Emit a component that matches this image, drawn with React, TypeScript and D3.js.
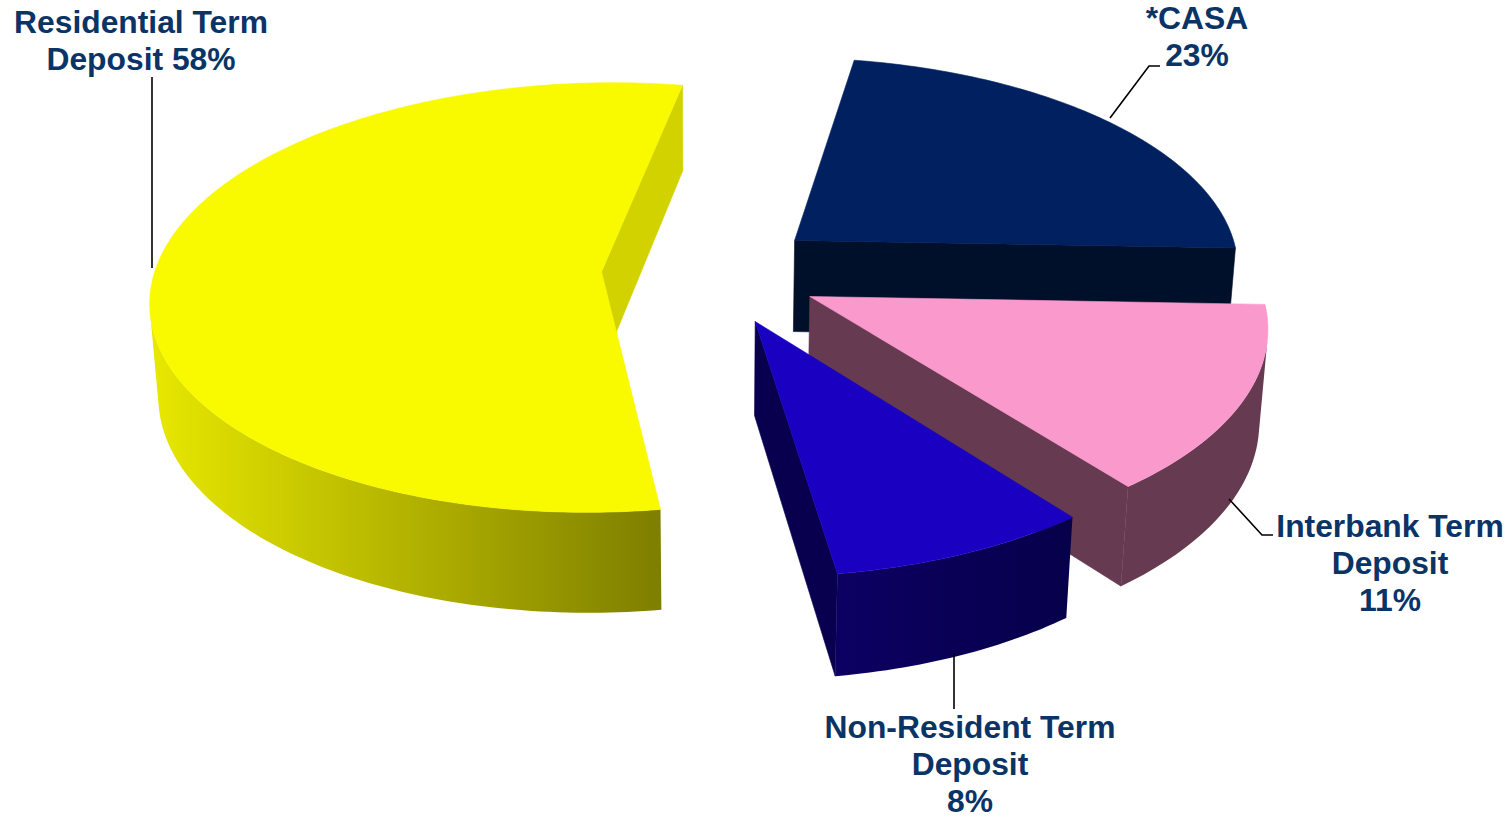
import React from 'react';
import * as d3 from 'd3';

// ---------------- data ----------------
const categories = ['*CASA', 'Interbank Term Deposit', 'Non-Resident Term Deposit', 'Residential Term Deposit'];
// share of the pie each slice occupies as drawn in the picture (%)
const sliceShares = [22.8, 13.9, 8.2, 55.1];
// label texts as printed on the chart
const labelLines = [
  ['*CASA', '23%'],
  ['Interbank Term', 'Deposit', '11%'],
  ['Non-Resident Term', 'Deposit', '8%'],
  ['Residential Term', 'Deposit 58%'],
];

// ---------------- styles ----------------
const topColors = ['#002060', '#FA99CC', '#1A00C0', '#F9F900'];
const wallColors = ['#000F2A', '#663A50', '#08004E', '#D2D200'];
const sideFrom = ['#000F2A', '#663A50', '#0C0062', '#E8E800'];
const sideTo = ['#000F2A', '#663A50', '#06004A', '#7E7E00'];
const textColor = '#0A3366';

// label layout (anchor of first baseline) and leader polylines
const labelPos = [
  { x: 1197, y: 29 },
  { x: 1390, y: 537 },
  { x: 970, y: 738 },
  { x: 141, y: 33 },
];
const leaders = [
  [[1110, 118], [1149, 66], [1160, 66]],
  [[1229, 499], [1262, 535], [1273, 535]],
  [[954, 653], [954, 709]],
  [[152, 268], [152, 77]],
];

// ---------------- 3D view ----------------
const view = { S: 447, cx: 711, cy: 272.5, sinA: 0.474, beta: 0.12, h: 0.238, explode: 0.245, rotation: 10 };
const deg = Math.PI / 180;
const cosA = Math.sqrt(1 - view.sinA * view.sinA);
const tanA = view.sinA / cosA;

type Pt = [number, number];
function project(x: number, y: number, z: number): Pt {
  const w = 1 / (1 + view.beta * (z - y * tanA));
  return [view.cx + view.S * x * w, view.cy - view.S * (z * view.sinA + y * cosA) * w];
}
function area(p: Pt[]) {
  let s = 0;
  for (let i = 0; i < p.length; i++) {
    const a = p[i], b = p[(i + 1) % p.length];
    s += a[0] * b[1] - b[0] * a[1];
  }
  return s / 2;
}
const pathOf = (p: Pt[]) => 'M' + p.map((q) => q[0].toFixed(2) + ',' + q[1].toFixed(2)).join('L') + 'Z';

function buildSlices() {
  const arcs = d3.pie<number>().sort(null).value((d) => d)(sliceShares);
  return arcs.map((a, i) => {
    const a0 = a.startAngle + view.rotation * deg;
    const a1 = a.endAngle + view.rotation * deg;
    const mid = (a0 + a1) / 2;
    const ox = view.explode * Math.sin(mid);
    const oz = view.explode * Math.cos(mid);
    const n = Math.max(8, Math.ceil((a1 - a0) / deg));
    const angs = d3.range(n + 1).map((k) => a0 + ((a1 - a0) * k) / n);
    const top = angs.map((t) => project(ox + Math.sin(t), 0, oz + Math.cos(t)));
    const bot = angs.map((t) => project(ox + Math.sin(t), -view.h, oz + Math.cos(t)));
    const apexT = project(ox, 0, oz);
    const apexB = project(ox, -view.h, oz);
    const half = (a1 - a0) / 2;
    const depth = oz + (2 / 3) * (Math.sin(half) / half) * Math.cos(mid);

    const walls: Pt[][] = [];
    const startWall: Pt[] = [apexT, top[0], bot[0], apexB];
    const endWall: Pt[] = [apexT, top[n], bot[n], apexB];
    if (area(startWall) < 0) walls.push(startWall);
    if (area(endWall) > 0) walls.push(endWall);

    const runs: Pt[][] = [];
    let cur: number[] = [];
    for (let k = 0; k < n; k++) {
      const q: Pt[] = [top[k], top[k + 1], bot[k + 1], bot[k]];
      if (area(q) < 0) {
        if (cur.length === 0) cur.push(k);
        cur.push(k + 1);
      } else if (cur.length) {
        runs.push(cur.map((j) => top[j]).concat(cur.slice().reverse().map((j) => bot[j])));
        cur = [];
      }
    }
    if (cur.length) runs.push(cur.map((j) => top[j]).concat(cur.slice().reverse().map((j) => bot[j])));

    const topFace: Pt[] = [apexT, ...top];
    return { i, depth, walls, runs, topFace };
  });
}

export default function App() {
  const slices = buildSlices().sort((a, b) => b.depth - a.depth);
  const fontSize = 31.8;
  const lineH = 37;
  return (
    <svg
      width={1511}
      height={818}
      style={{ position: 'absolute', left: 0, top: 0, background: '#fff' }}
      fontFamily="'Liberation Sans', Arial, sans-serif"
    >
      <defs>
        {slices.map((s) =>
          s.runs.map((r, j) => {
            const xs = r.map((p) => p[0]);
            return (
              <linearGradient
                key={`g${s.i}-${j}`}
                id={`side${s.i}-${j}`}
                gradientUnits="userSpaceOnUse"
                x1={d3.min(xs)}
                x2={d3.max(xs)}
                y1={0}
                y2={0}
              >
                <stop offset="0%" stopColor={sideFrom[s.i]} />
                <stop offset="100%" stopColor={sideTo[s.i]} />
              </linearGradient>
            );
          })
        )}
      </defs>
      {slices.map((s) => (
        <g key={categories[s.i]}>
          {s.walls.map((w, j) => (
            <path key={`w${j}`} d={pathOf(w)} fill={wallColors[s.i]} stroke={wallColors[s.i]} strokeWidth={0.6} />
          ))}
          {s.runs.map((r, j) => (
            <path key={`r${j}`} d={pathOf(r)} fill={`url(#side${s.i}-${j})`} />
          ))}
          <path d={pathOf(s.topFace)} fill={topColors[s.i]} stroke={topColors[s.i]} strokeWidth={0.6} />
        </g>
      ))}
      {leaders.map((l, i) => (
        <polyline key={`l${i}`} points={l.map((p) => p.join(',')).join(' ')} fill="none" stroke="#000" strokeWidth={1.6} />
      ))}
      {labelLines.map((lines, i) => (
        <text
          key={`t${i}`}
          x={labelPos[i].x}
          y={labelPos[i].y}
          textAnchor="middle"
          fontSize={fontSize}
          fontWeight="bold"
          fill={textColor}
        >
          {lines.map((t, k) => (
            <tspan key={k} x={labelPos[i].x} y={labelPos[i].y + k * lineH}>
              {t}
            </tspan>
          ))}
        </text>
      ))}
    </svg>
  );
}
